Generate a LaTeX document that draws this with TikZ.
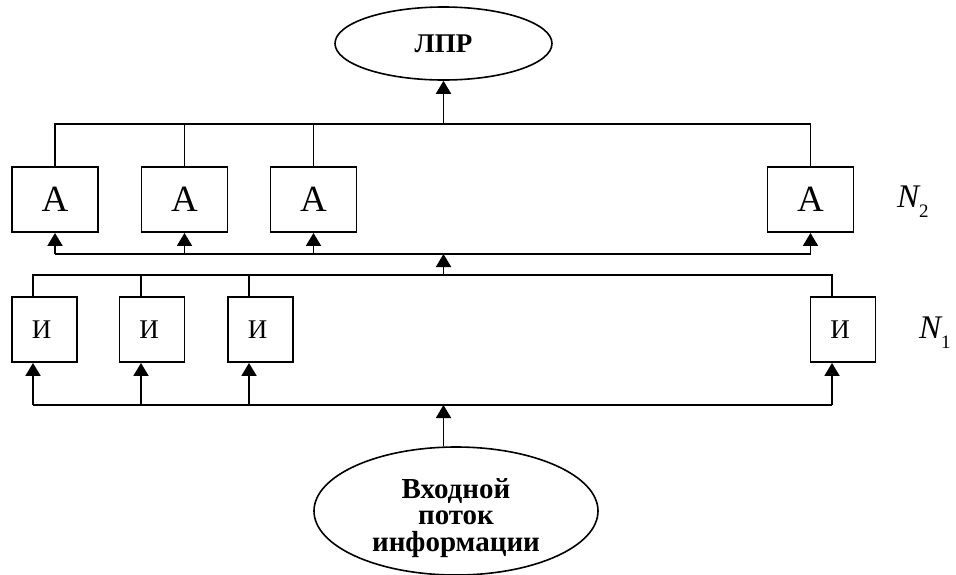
\documentclass[tikz,border=0pt]{standalone}
\usepackage{fontspec}
\setmainfont{Liberation Serif}
\usetikzlibrary{arrows.meta,shapes.geometric}

\tikzset{
  wire/.style={line width=1.9pt},
  arr/.style={wire,-{Triangle[width=15pt,length=13pt]}},
  abox/.style={draw,line width=1.9pt,minimum width=86pt,minimum height=65pt,
    inner sep=0pt,font=\fontsize{37}{37}\selectfont},
  ibox/.style={draw,line width=1.9pt,minimum width=65pt,minimum height=65pt,
    inner sep=0pt,font=\fontsize{27}{27}\selectfont},
  oval/.style={draw,ellipse,line width=1.6pt,inner sep=0pt},
  lvl/.style={anchor=base west,inner sep=0pt,font=\fontsize{33}{33}\selectfont\itshape}
}
\newcommand{\lvlsub}[1]{\raisebox{-10pt}{\fontsize{19}{19}\selectfont\upshape #1}}

\begin{document}
\begin{tikzpicture}[x=1pt,y=-1pt]
\useasboundingbox (0,0) rectangle (956,574);
\clip (0,0) rectangle (956,574);

% decision maker
\node[oval,minimum width=217pt,minimum height=73pt,
  font=\fontsize{27}{27}\selectfont\bfseries] (lpr) at (443.5,43.5) {ЛПР};

% analysts (level N2)
\node[abox] (A1) at (55,199.5) {А};
\node[abox] (A2) at (184.5,199.5) {А};
\node[abox] (A3) at (313.5,199.5) {А};
\node[abox] (A4) at (810.5,199.5) {А};
\node[lvl] (n2) at (897,207) {N\lvlsub{2}};

% information sources (level N1)
\node[ibox] (I1) at (44.5,329.5) {И\kern6pt};
\node[ibox] (I2) at (152,329.5) {И\kern6pt};
\node[ibox] (I3) at (260.5,329.5) {И\kern6pt};
\node[ibox] (I4) at (843,329.5) {И\kern6pt};
\node[lvl] (n1) at (919,338) {N\lvlsub{1}};

% input stream
\node[oval,minimum width=284pt,minimum height=128pt] (in) at (456,511) {};
\node[align=center,inner sep=0pt,
  font=\fontsize{29}{26.5}\selectfont\bfseries] (inText) at (456,518)
  {Входной\\ поток\\ информации};

% bus coordinates
\coordinate (bT) at (443.5,124);   % bus above analysts
\coordinate (bA) at (443.5,254);   % bus below analysts
\coordinate (bI) at (443.5,275);   % bus above sources
\coordinate (bB) at (443.5,405);   % bus below sources
\coordinate (t1) at (33,275);
\coordinate (t2) at (141,275);
\coordinate (t3) at (249,275);
\coordinate (t4) at (832,275);

% analysts -> decision maker
\draw[wire] (A1.north) -- (A1.north |- bT) -- (A4.north |- bT) -- (A4.north);
\draw[wire] (A2.north) -- (A2.north |- bT);
\draw[wire] (A3.north) -- (A3.north |- bT);
\draw[arr] (bT) -- (lpr.south);

% bus feeding the analysts
\draw[wire] (A1.south |- bA) -- (A4.south |- bA);
\foreach \n in {A1,A2,A3,A4}
  \draw[arr] (\n.south |- bA) -- (\n.south);

% sources -> analysts bus
\draw[wire] (t1 |- I1.north) -- (t1) -- (t4) -- (t4 |- I4.north);
\draw[wire] (t2 |- I2.north) -- (t2);
\draw[wire] (t3 |- I3.north) -- (t3);
\draw[arr] (bI) -- (bA);

% input bus feeding the sources
\draw[wire] (t1 |- bB) -- (t4 |- bB);
\draw[arr] (t1 |- bB) -- (t1 |- I1.south);
\draw[arr] (t2 |- bB) -- (t2 |- I2.south);
\draw[arr] (t3 |- bB) -- (t3 |- I3.south);
\draw[arr] (t4 |- bB) -- (t4 |- I4.south);
\draw[arr] (in.north -| bB) -- (bB);
\end{tikzpicture}
\end{document}
